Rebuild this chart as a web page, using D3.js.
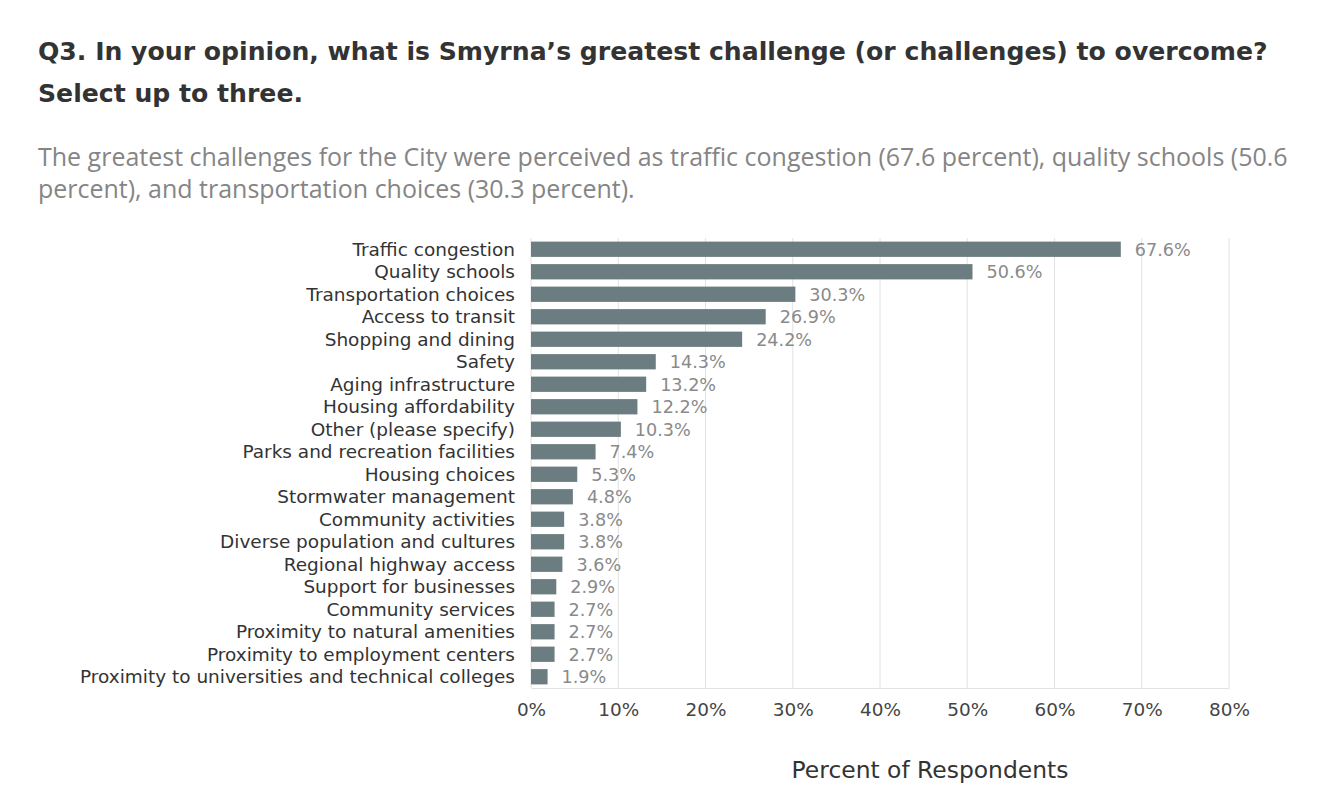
<!DOCTYPE html>
<html>
<head>
<meta charset="utf-8">
<script src="https://cdn.jsdelivr.net/npm/d3@7"></script>
<style>
	body { margin: 0; background: #fff; }
	text { font-family: "DejaVu Sans", sans-serif; }
	text.subtitle { font-family: "Open Sans", sans-serif; }
</style>
</head>
<body>
<svg id="chart" width="1339" height="801"></svg>
<script>
// categories, top to bottom
var categories = [
	"Traffic congestion",
	"Quality schools",
	"Transportation choices",
	"Access to transit",
	"Shopping and dining",
	"Safety",
	"Aging infrastructure",
	"Housing affordability",
	"Other (please specify)",
	"Parks and recreation facilities",
	"Housing choices",
	"Stormwater management",
	"Community activities",
	"Diverse population and cultures",
	"Regional highway access",
	"Support for businesses",
	"Community services",
	"Proximity to natural amenities",
	"Proximity to employment centers",
	"Proximity to universities and technical colleges"
];

var percents = [67.6, 50.6, 30.3, 26.9, 24.2, 14.3, 13.2, 12.2, 10.3, 7.4,
	5.3, 4.8, 3.8, 3.8, 3.6, 2.9, 2.7, 2.7, 2.7, 1.9];

var ticks = [0, 10, 20, 30, 40, 50, 60, 70, 80];

var titleLines = [
	"Q3. In your opinion, what is Smyrna\u2019s greatest challenge (or challenges) to overcome?",
	"Select up to three."
];

var subtitleLines = [
	"The greatest challenges for the City were perceived as traffic congestion (67.6 percent), quality schools (50.6",
	"percent), and transportation choices (30.3 percent)."
];

var axisTitle = "Percent of Respondents";

var svg = d3.select("#chart");

var plot = { left: 531, right: 1229, top: 238, bottom: 688 };

// scale a text selection's font so its widest line hits the wanted width
function fitWidth(sel, wanted) {
	var widest = 0;
	sel.each(function () {
		widest = Math.max(widest, this.getComputedTextLength());
	});
	var size = parseFloat(sel.attr("font-size"));
	sel.attr("font-size", size * wanted / widest);
}

var x = d3.scaleLinear()
	.domain([0, 80])
	.range([plot.left, plot.right]);

var y = d3.scaleBand()
	.domain(categories)
	.range([plot.top, plot.bottom])
	.paddingInner(0.32)
	.paddingOuter(0.16);

// title + subtitle
var title = svg.selectAll("text.title")
	.data(titleLines)
	.enter()
  .append("text")
	.attr("class", "title")
	.attr("x", 38)
	.attr("y", function (d, i) { return 60 + i * 42; })
	.attr("font-size", 24)
	.attr("font-weight", 700)
	.attr("fill", "#333")
	.text(function (d) { return d; });
fitWidth(title, 1230);

var subtitle = svg.selectAll("text.subtitle")
	.data(subtitleLines)
	.enter()
  .append("text")
	.attr("class", "subtitle")
	.attr("x", 38)
	.attr("y", function (d, i) { return 166 + i * 32; })
	.attr("font-size", 22)
	.attr("fill", "#858585")
	.text(function (d) { return d; });
fitWidth(subtitle, 1250);

// gridlines
svg.append("g")
	.attr("class", "grid")
	.selectAll("line")
	.data(ticks)
	.enter()
  .append("line")
	.attr("x1", function (d) { return x(d); })
	.attr("x2", function (d) { return x(d); })
	.attr("y1", plot.top)
	.attr("y2", plot.bottom)
	.attr("stroke", "#e2e2e2")
	.attr("stroke-width", 1);

// bottom axis
var xAxis = d3.axisBottom(x)
	.tickValues(ticks)
	.tickSize(0)
	.tickPadding(15)
	.tickFormat(function (d) { return d + "%"; });

var axisG = svg.append("g")
	.attr("transform", "translate(0," + plot.bottom + ")")
	.call(xAxis);

axisG.select(".domain")
	.attr("stroke", "#e2e2e2");

var tickText = axisG.selectAll("text")
	.attr("font-family", "'DejaVu Sans', sans-serif")
	.attr("font-size", 16)
	.attr("fill", "#444");
fitWidth(tickText, 41);

var axisLabel = svg.append("text")
	.attr("x", 930)
	.attr("y", 778)
	.attr("text-anchor", "middle")
	.attr("font-size", 20)
	.attr("fill", "#333")
	.text(axisTitle);
fitWidth(axisLabel, 277);

// bars
var rows = categories.map(function (c, i) {
	return { cat: c, val: percents[i] };
});

svg.append("g")
	.selectAll("rect")
	.data(rows)
	.enter()
  .append("rect")
	.attr("x", x(0))
	.attr("y", function (d) { return y(d.cat); })
	.attr("width", function (d) { return x(d.val) - x(0); })
	.attr("height", y.bandwidth())
	.attr("fill", "#6b7d80");

// category labels
var catText = svg.append("g")
	.selectAll("text")
	.data(rows)
	.enter()
  .append("text")
	.attr("x", plot.left - 16)
	.attr("y", function (d) { return y(d.cat) + y.bandwidth() / 2; })
	.attr("dy", "0.36em")
	.attr("text-anchor", "end")
	.attr("font-size", 17)
	.attr("fill", "#333")
	.text(function (d) { return d.cat; });
fitWidth(catText, 435);

// value labels
var valText = svg.append("g")
	.selectAll("text")
	.data(rows)
	.enter()
  .append("text")
	.attr("x", function (d) { return x(d.val) + 14; })
	.attr("y", function (d) { return y(d.cat) + y.bandwidth() / 2; })
	.attr("dy", "0.36em")
	.attr("font-size", 15)
	.attr("fill", "#8a8a8a")
	.text(function (d) { return d.val.toFixed(1) + "%"; });
fitWidth(valText, 56);
</script>
</body>
</html>
